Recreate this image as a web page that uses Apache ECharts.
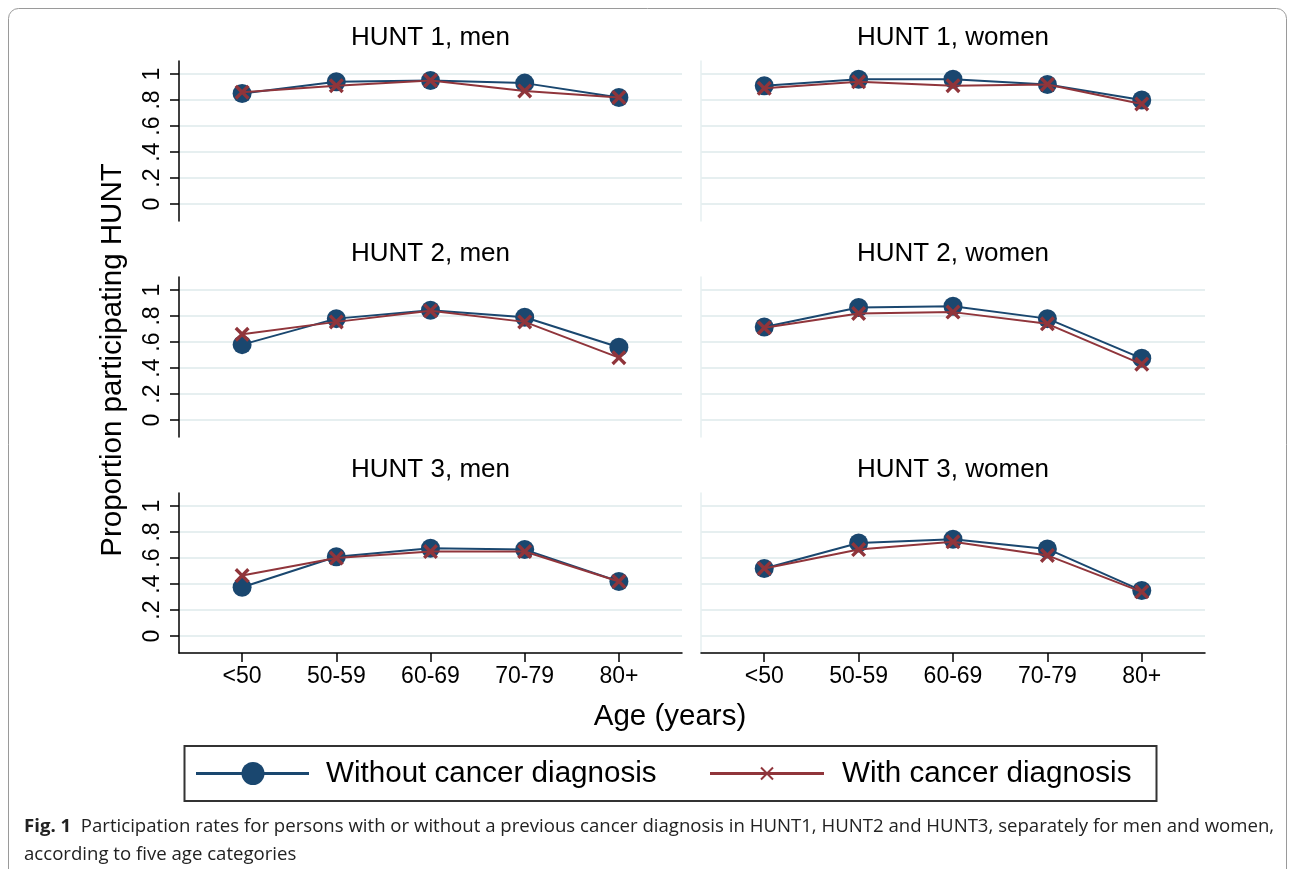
<!DOCTYPE html>
<html>
<head>
<meta charset="utf-8">
<script src="https://cdn.jsdelivr.net/npm/echarts@6/dist/echarts.min.js"></script>
<style>
  html, body { margin: 0; padding: 0; background: #fff; }
  #chart { width: 1289px; height: 869px; }
</style>
</head>
<body>
<div id="chart"></div>
<script>
// ---- data ----
const ageGroups = ['<50', '50-59', '60-69', '70-79', '80+'];
const yTickValues = [0, 0.2, 0.4, 0.6, 0.8, 1];
const yTickLabels = ['0', '.2', '.4', '.6', '.8', '1'];
const panelTitles = ['HUNT 1, men', 'HUNT 1, women', 'HUNT 2, men', 'HUNT 2, women', 'HUNT 3, men', 'HUNT 3, women'];
const seriesNames = ['Without cancer diagnosis', 'With cancer diagnosis'];

const hunt1MenWithout   = [0.85, 0.94, 0.95, 0.93, 0.82];
const hunt1MenWith      = [0.86, 0.91, 0.95, 0.87, 0.82];
const hunt1WomenWithout = [0.91, 0.96, 0.96, 0.92, 0.80];
const hunt1WomenWith    = [0.89, 0.94, 0.91, 0.92, 0.77];
const hunt2MenWithout   = [0.58, 0.78, 0.845, 0.79, 0.56];
const hunt2MenWith      = [0.66, 0.755, 0.84, 0.755, 0.48];
const hunt2WomenWithout = [0.715, 0.865, 0.875, 0.78, 0.475];
const hunt2WomenWith    = [0.71, 0.82, 0.83, 0.74, 0.43];
const hunt3MenWithout   = [0.375, 0.61, 0.675, 0.665, 0.42];
const hunt3MenWith      = [0.465, 0.60, 0.65, 0.65, 0.42];
const hunt3WomenWithout = [0.52, 0.715, 0.745, 0.67, 0.35];
const hunt3WomenWith    = [0.52, 0.665, 0.725, 0.62, 0.34];

const captionBold = 'Fig. 1';
const captionLine1 = 'Participation rates for persons with or without a previous cancer diagnosis in HUNT1, HUNT2 and HUNT3, separately for men and women,';
const captionLine2 = 'according to five age categories';

// ---- build ----
const panelData = [
  [hunt1MenWithout, hunt1MenWith], [hunt1WomenWithout, hunt1WomenWith],
  [hunt2MenWithout, hunt2MenWith], [hunt2WomenWithout, hunt2WomenWith],
  [hunt3MenWithout, hunt3MenWith], [hunt3WomenWithout, hunt3WomenWith]
];

const BLUE = '#1a476f';
const RED = '#90353b';
const GRIDC = '#e6eff0';
const FONT = '"Liberation Sans", Arial, Helvetica, sans-serif';
const rowTops = [61, 277, 493];
const colLefts = [179, 701];
const colWidths = [503, 504];
const gridH = 160;
const xPath = 'path://M1.6,0 L5,3.4 L8.4,0 L10,1.6 L6.6,5 L10,8.4 L8.4,10 L5,6.6 L1.6,10 L0,8.4 L3.4,5 L0,1.6 Z';

const grids = [], xAxes = [], yAxes = [], series = [], graphics = [];
for (let p = 0; p < 6; p++) {
  const row = Math.floor(p / 2), col = p % 2;
  const isBottom = row === 2, isLeft = col === 0;
  grids.push({ left: colLefts[col], top: rowTops[row], width: colWidths[col], height: gridH });
  xAxes.push({
    gridIndex: p, type: 'value', min: -0.67, max: 4.67, position: 'bottom',
    axisLine: { show: isBottom, onZero: false, lineStyle: { color: '#000', width: 1.5 } },
    axisTick: { show: isBottom, customValues: [0, 1, 2, 3, 4], length: 9, lineStyle: { color: '#000', width: 1.5 } },
    axisLabel: {
      show: isBottom, customValues: [0, 1, 2, 3, 4], margin: 12,
      fontFamily: FONT, fontSize: 23, color: '#000',
      formatter: v => ageGroups[Math.round(v)]
    },
    splitLine: { show: false }
  });
  yAxes.push({
    gridIndex: p, type: 'value', min: -0.13, max: 1.1, position: 'left',
    axisLine: { show: true, onZero: false, lineStyle: { color: isLeft ? '#000' : GRIDC, width: 1.5 } },
    axisTick: { show: isLeft, customValues: yTickValues, length: 9, lineStyle: { color: '#000', width: 1.5 } },
    axisLabel: {
      show: isLeft, customValues: yTickValues, rotate: 90, margin: 15,
      fontFamily: FONT, fontSize: 23, color: '#000',
      formatter: v => yTickLabels[Math.round(v * 5)]
    },
    splitLine: { show: true, lineStyle: { color: GRIDC, width: 2 } }
  });
  const [without, withC] = panelData[p];
  series.push({
    name: seriesNames[0], type: 'line', xAxisIndex: p, yAxisIndex: p,
    data: ageGroups.map((_, i) => [i, without[i]]),
    symbol: 'circle', symbolSize: 19,
    lineStyle: { color: BLUE, width: 2 }, itemStyle: { color: BLUE },
    z: 2, animation: false, silent: true
  });
  series.push({
    name: seriesNames[1], type: 'line', xAxisIndex: p, yAxisIndex: p,
    data: ageGroups.map((_, i) => [i, withC[i]]),
    symbol: xPath, symbolSize: 15,
    lineStyle: { color: RED, width: 2 }, itemStyle: { color: RED },
    z: 3, animation: false, silent: true
  });
  graphics.push({
    type: 'text', silent: true,
    style: {
      text: panelTitles[p], x: colLefts[col] + colWidths[col] / 2, y: rowTops[row] - 23,
      align: 'center', verticalAlign: 'middle', font: '26px ' + FONT, fill: '#000'
    }
  });
}

// axis titles
graphics.push({
  type: 'text', silent: true, x: 113, y: 360, rotation: Math.PI / 2,
  style: { text: 'Proportion participating HUNT', x: 0, y: 0, align: 'center', verticalAlign: 'middle', font: '29.5px ' + FONT, fill: '#000' }
});
graphics.push({
  type: 'text', silent: true,
  style: { text: 'Age (years)', x: 670, y: 717, align: 'center', verticalAlign: 'middle', font: '29.5px ' + FONT, fill: '#000' }
});

// legend box
graphics.push({ type: 'rect', silent: true, shape: { x: 184.5, y: 746, width: 972, height: 55 }, style: { fill: '#fff', stroke: '#333', lineWidth: 2 } });
graphics.push({ type: 'line', silent: true, shape: { x1: 196, y1: 773.5, x2: 309, y2: 773.5 }, style: { stroke: BLUE, lineWidth: 3 } });
graphics.push({ type: 'circle', silent: true, shape: { cx: 253, cy: 773.5, r: 11.5 }, style: { fill: BLUE } });
graphics.push({ type: 'text', silent: true, style: { text: seriesNames[0], x: 326, y: 774, align: 'left', verticalAlign: 'middle', font: '29.6px ' + FONT, fill: '#000' } });
graphics.push({ type: 'line', silent: true, shape: { x1: 710, y1: 773.5, x2: 824, y2: 773.5 }, style: { stroke: RED, lineWidth: 3 } });
graphics.push({ type: 'line', silent: true, shape: { x1: 761, y1: 767.5, x2: 773, y2: 779.5 }, style: { stroke: RED, lineWidth: 2 } });
graphics.push({ type: 'line', silent: true, shape: { x1: 773, y1: 767.5, x2: 761, y2: 779.5 }, style: { stroke: RED, lineWidth: 2 } });
graphics.push({ type: 'text', silent: true, style: { text: seriesNames[1], x: 842, y: 774, align: 'left', verticalAlign: 'middle', font: '29.6px ' + FONT, fill: '#000' } });

// outer frame
graphics.push({ type: 'rect', silent: true, z: -10, shape: { x: 8.5, y: 8.5, width: 1278, height: 900, r: 10 }, style: { fill: 'none', stroke: '#9a9a9a', lineWidth: 1 } });

// caption
graphics.push({
  type: 'text', silent: true,
  style: {
    text: '{b|' + captionBold + '}  ' + captionLine1, x: 24, y: 827, verticalAlign: 'middle', align: 'left',
    font: '18.6px "Open Sans", sans-serif', fill: '#222',
    rich: { b: { font: 'bold 18.6px "Open Sans", sans-serif', fill: '#222' } }
  }
});
graphics.push({
  type: 'text', silent: true,
  style: { text: captionLine2, x: 24, y: 855, verticalAlign: 'middle', align: 'left', font: '18.6px "Open Sans", sans-serif', fill: '#222' }
});

const chart = echarts.init(document.getElementById('chart'), null, { renderer: 'canvas' });
chart.setOption({
  backgroundColor: '#fff',
  animation: false,
  grid: grids, xAxis: xAxes, yAxis: yAxes, series: series,
  graphic: graphics
});
</script>
</body>
</html>
